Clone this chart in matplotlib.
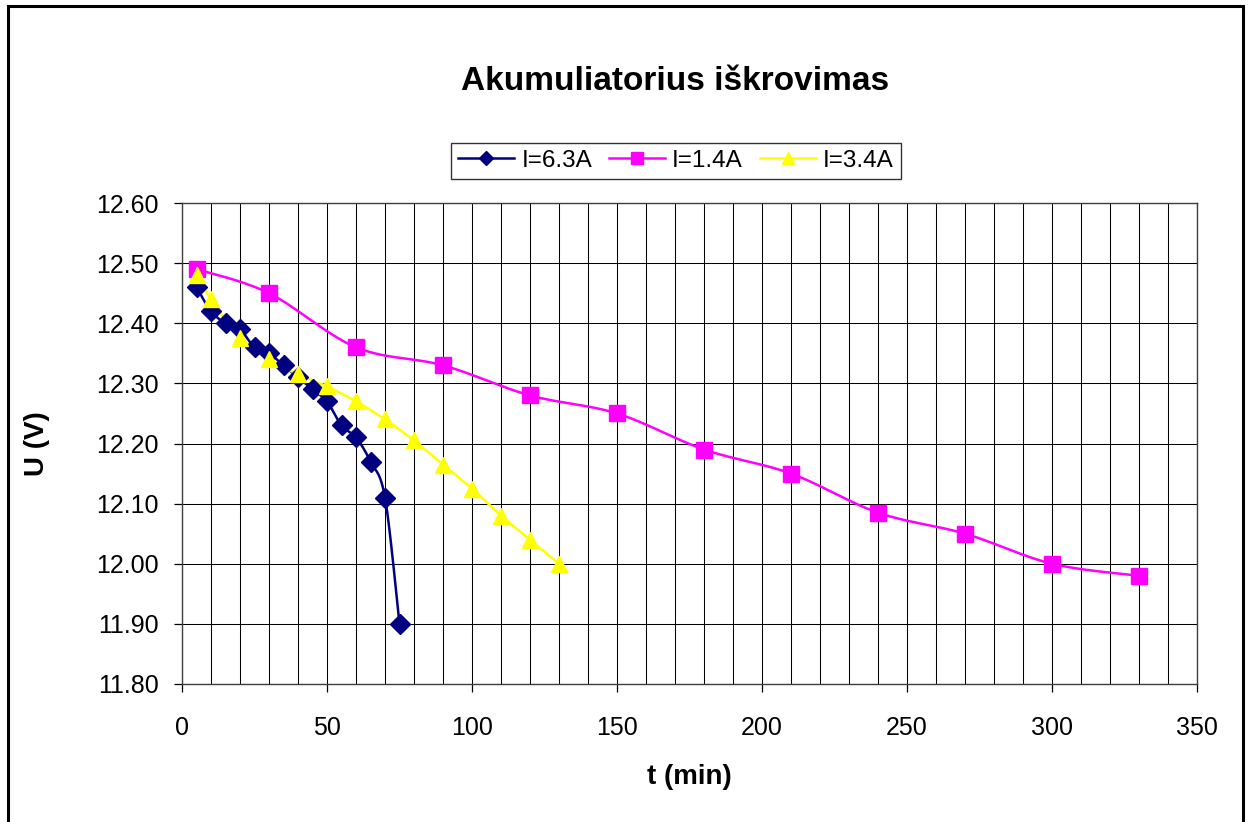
import numpy as np
import matplotlib
matplotlib.use("Agg")
import matplotlib.pyplot as plt
from matplotlib.patches import Rectangle
from matplotlib.lines import Line2D

plt.rcParams['font.family'] = ['Liberation Sans', 'DejaVu Sans']

# ---- data ----
t_63 = [5, 10, 15, 20, 25, 30, 35, 40, 45, 50, 55, 60, 65, 70, 75]
u_63 = [12.46, 12.42, 12.40, 12.39, 12.36, 12.35, 12.33, 12.31, 12.29, 12.27,
        12.23, 12.21, 12.17, 12.11, 11.90]

t_14 = [5, 30, 60, 90, 120, 150, 180, 210, 240, 270, 300, 330]
u_14 = [12.49, 12.45, 12.36, 12.33, 12.28, 12.25, 12.19, 12.15, 12.085, 12.05,
        12.00, 11.98]

t_34 = [5, 10, 20, 30, 40, 50, 60, 70, 80, 90, 100, 110, 120, 130]
u_34 = [12.48, 12.44, 12.375, 12.34, 12.315, 12.295, 12.27, 12.24, 12.205,
        12.165, 12.125, 12.08, 12.04, 12.00]

labels = ['I=6.3A', 'I=1.4A', 'I=3.4A']
title = 'Akumuliatorius iškrovimas'
xlabel = 't (min)'
ylabel = 'U (V)'

W, H = 1248, 822
fig = plt.figure(figsize=(W / 100, H / 100), dpi=100)

L, R, T, B = 182, 1197, 203, 684
ax = fig.add_axes([L / W, 1 - B / H, (R - L) / W, (B - T) / H])

xmin, xmax, ymin, ymax = 0, 350, 11.80, 12.60
ax.set_xlim(xmin, xmax)
ax.set_ylim(ymin, ymax)


def smooth(xs, ys, n=30):
    # Catmull-Rom line rendering in display-normalised space
    xs = np.asarray(xs, float)
    ys = np.asarray(ys, float)
    sx = (R - L) / (xmax - xmin)
    sy = (B - T) / (ymax - ymin)
    P = np.column_stack([xs * sx, ys * sy])
    P = np.vstack([P[0], P, P[-1]])
    out = []
    for i in range(1, len(P) - 2):
        p0, p1, p2, p3 = P[i - 1], P[i], P[i + 1], P[i + 2]
        c1 = p1 + (p2 - p0) / 6
        c2 = p2 - (p3 - p1) / 6
        tt = np.linspace(0, 1, n)[:, None]
        seg = ((1 - tt) ** 3) * p1 + 3 * ((1 - tt) ** 2) * tt * c1 + \
            3 * (1 - tt) * tt ** 2 * c2 + tt ** 3 * p2
        out.append(seg if i == 1 else seg[1:])
    out = np.vstack(out)
    return out[:, 0] / sx, out[:, 1] / sy


series = [
    (t_63, u_63, '#000080', 'D', 10, labels[0]),
    (t_14, u_14, '#FF00FF', 's', 11, labels[1]),
    (t_34, u_34, '#FFFF00', '^', 12, labels[2]),
]

handles = []
for xs, ys, c, m, ms, lab in series:
    sxs, sys_ = smooth(xs, ys)
    ax.plot(sxs, sys_, color=c, lw=1.8, zorder=3, solid_capstyle='round')
    ax.plot(xs, ys, ls='none', marker=m, ms=ms, color=c, mec=c, zorder=4)
    handles.append(Line2D([], [], color=c, lw=1.8, marker=m, ms=ms * 0.75,
                          mec=c, label=lab))

# grid
ax.set_xticks(np.arange(0, 351, 50))
ax.set_xticks(np.arange(0, 351, 10), minor=True)
ax.set_yticks(np.arange(11.80, 12.601, 0.10))
ax.set_yticklabels([f'{v:.2f}' for v in np.arange(11.80, 12.601, 0.10)])
ax.grid(True, which='both', axis='x', color='black', lw=0.75)
ax.grid(True, which='major', axis='y', color='black', lw=0.75)
ax.set_axisbelow(True)
ax.tick_params(axis='both', which='major', direction='out', length=6,
               width=0.9, color='black', labelsize=18)
ax.tick_params(axis='x', which='major', pad=17)
ax.tick_params(axis='y', which='major', pad=11)
ax.tick_params(axis='x', which='minor', length=0)
for s in ax.spines.values():
    s.set_color('#404040')
    s.set_linewidth(1.0)

ax.set_xlabel(xlabel, fontsize=20, fontweight='bold', labelpad=17)
ax.set_ylabel(ylabel, fontsize=20, fontweight='bold', labelpad=33)

fig.text(675.5 / W, 1 - 82 / H, title, ha='center', va='center',
         fontsize=24, fontweight='bold')

leg = fig.legend(handles=handles, loc='center', ncol=3,
                 bbox_to_anchor=(676 / W, 1 - 161 / H), fontsize=17.5,
                 frameon=True, fancybox=False, edgecolor='black',
                 handlelength=2.3, handletextpad=0.3, columnspacing=0.7,
                 borderpad=0.3)
leg.get_frame().set_linewidth(1.0)

# outer chart border
fig.patches.append(Rectangle((7.5 / W, -0.01), (1243 - 7.5) / W,
                             1 - 5.5 / H + 0.01, transform=fig.transFigure,
                             fill=False, edgecolor='black', lw=2.2))

fig.savefig('out.png', dpi=100)
